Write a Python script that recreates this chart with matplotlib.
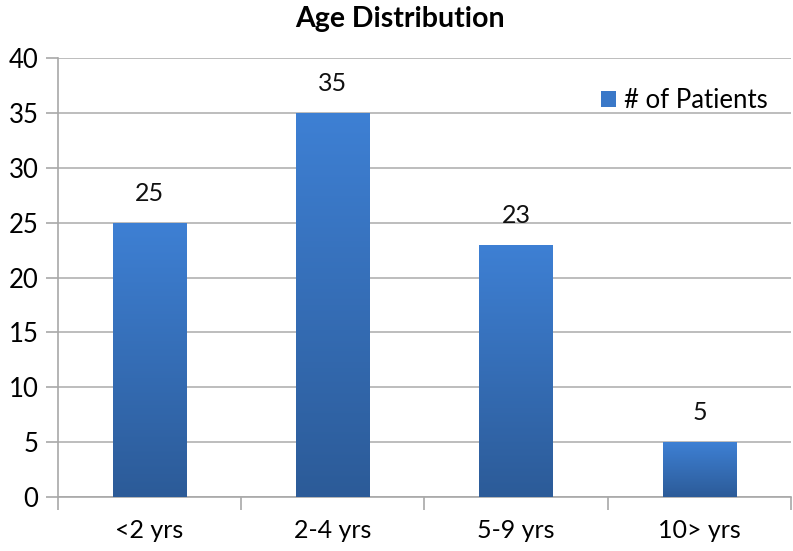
import numpy as np
import matplotlib.pyplot as plt
from matplotlib.colors import LinearSegmentedColormap

categories = ['<2 yrs', '2-4 yrs', '5-9 yrs', '10> yrs']
patients = [25, 35, 23, 5]
series_name = '# of Patients'
title = 'Age Distribution'

plt.rcParams['font.family'] = ['Lato', 'DejaVu Sans']

fig = plt.figure(figsize=(7.93, 5.51), dpi=100)
ax = fig.add_axes([0.0731, 0.098, 0.9244, 0.7967])

x = np.arange(len(categories))
bars = ax.bar(x, patients, width=0.4, color='#3a78c8', label=series_name, zorder=3)

# vertical gradient inside each bar
grad = LinearSegmentedColormap.from_list('g', ['#2c5b98', '#3e80d4'])
for b in bars:
    x0, y0 = b.get_x(), b.get_y()
    w, h = b.get_width(), b.get_height()
    im = ax.imshow(np.linspace(0, 1, 256).reshape(-1, 1), cmap=grad, origin='lower',
                   extent=[x0, x0 + w, y0, y0 + h], aspect='auto', zorder=4)
    im.set_clip_path(b)

for xi, v in zip(x, patients):
    ax.annotate(str(v), (xi, v), xytext=(0, 21), textcoords='offset points',
                ha='center', va='center', fontsize=18, color='#111111')

ax.set_xlim(-0.5, len(categories) - 0.5)
ax.set_ylim(0, 40)
ax.set_yticks(range(0, 41, 5))
ax.set_xticks(x)
ax.set_xticklabels(categories)
ax.set_xticks(np.arange(-0.5, len(categories), 1), minor=True)
ax.tick_params(axis='x', which='major', length=0, pad=16, labelsize=18)
ax.tick_params(axis='x', which='minor', length=9, color='#a8a8a8', width=1.2)
ax.tick_params(axis='y', length=9, color='#a8a8a8', width=1.2, labelsize=18.5, pad=5)
ax.grid(axis='y', color='#b8b8b8', linewidth=1.3, zorder=0)
ax.set_axisbelow(True)
for s in ['top', 'right']:
    ax.spines[s].set_visible(False)
for s in ['left', 'bottom']:
    ax.spines[s].set_color('#a8a8a8')
    ax.spines[s].set_linewidth(1.2)

ax.legend(loc='upper right', bbox_to_anchor=(1.0, 0.985), frameon=False, fontsize=18.5,
          handlelength=0.6, handleheight=0.6, handletextpad=0.3)

fig.text(0.505, 0.966, title, ha='center', va='center', fontsize=20.5, fontweight='bold')

fig.savefig('out.png', dpi=100)
